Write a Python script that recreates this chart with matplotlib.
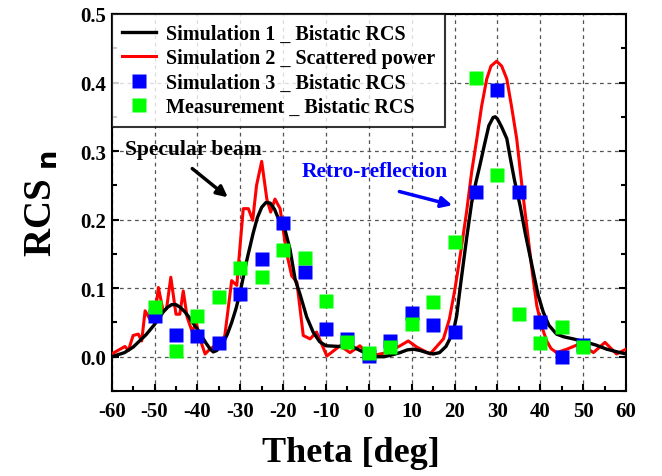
import matplotlib
matplotlib.use("Agg")
import matplotlib.pyplot as plt
from matplotlib.ticker import MultipleLocator

plt.rcParams['font.family'] = ['Liberation Serif', 'DejaVu Serif']
plt.rcParams['font.weight'] = 'bold'
plt.rcParams['axes.unicode_minus'] = False

# Simulation 1 - Bistatic RCS (black smooth curve)
sim1_theta = [-60, -57, -55, -52, -50, -49, -48, -47, -46, -45, -44, -43, -42, -41, -40, -39, -38, -37, -36.3,
              -35.5, -34, -33, -32, -31, -30, -28.5, -27, -26, -25, -24, -23, -22, -21, -19.6, -18.4, -17.2,
              -16, -14.5, -13, -11.5, -10, -7, -4, -2, 0, 2, 3.5, 5, 7.3, 9, 10.4, 12, 13.5, 15, 16.5, 18,
              19.7, 20.5, 21.5, 22.8, 24, 25, 25.9, 27, 28, 29, 29.5, 30, 31, 32.2, 33, 34, 35.3, 36.5, 38.4,
              39.5, 40.7, 42, 43.8, 45.5, 47.7, 50.8, 53, 55.5, 58, 60]
sim1_rcs = [0.0, 0.006, 0.014, 0.032, 0.047, 0.056, 0.065, 0.072, 0.076, 0.076, 0.072, 0.066, 0.058, 0.049,
            0.040, 0.030, 0.020, 0.011, 0.007, 0.009, 0.020, 0.033, 0.050, 0.070, 0.095, 0.140, 0.180, 0.203,
            0.218, 0.225, 0.224, 0.215, 0.200, 0.186, 0.157, 0.113, 0.090, 0.058, 0.036, 0.022, 0.016, 0.015,
            0.015, 0.009, 0.003, 0.000, 0.000, 0.002, 0.006, 0.010, 0.011, 0.009, 0.006, 0.004, 0.006, 0.015,
            0.036, 0.060, 0.110, 0.172, 0.225, 0.255, 0.279, 0.310, 0.337, 0.349, 0.350, 0.347, 0.335, 0.318,
            0.290, 0.257, 0.220, 0.180, 0.123, 0.090, 0.065, 0.046, 0.033, 0.029, 0.026, 0.021, 0.017, 0.011,
            0.007, 0.004]

# Simulation 2 - Scattered power (red curve)
sim2_theta = [-60, -56.9, -56.1, -55, -53.8, -53, -52.2, -51.1, -50.1, -49.1, -48, -47.2, -46.2, -45, -44.1,
              -43.3, -42.4, -41.3, -40.2, -39.4, -38.2, -37.1, -35.9, -34.7, -33.6, -32, -30.8, -30.3, -29.3,
              -28.1, -27.1, -26.2, -25, -23.8, -22.9, -21.9, -20.7, -19.2, -18, -16.8, -15.3, -13.7, -12.2,
              -9.8, -6.7, -4.4, -2.1, 0.3, 4.2, 7.3, 9.2, 11.2, 14.3, 17.4, 18.8, 20.1, 21.5, 22.8, 24, 25.2,
              26.3, 27.5, 28.5, 29.8, 31, 32.2, 33.3, 34.5, 35.8, 37.2, 38.2, 39.2, 40.3, 41.5, 42.5, 43.8,
              46.2, 49.3, 52.4, 55.1, 57.8, 60]
sim2_rcs = [0.004, 0.015, 0.009, 0.031, 0.033, 0.023, 0.067, 0.055, 0.050, 0.101, 0.067, 0.070, 0.116, 0.062,
            0.062, 0.096, 0.058, 0.038, 0.048, 0.026, 0.004, 0.011, 0.016, 0.016, 0.031, 0.111, 0.104, 0.143,
            0.216, 0.216, 0.199, 0.250, 0.285, 0.230, 0.211, 0.230, 0.216, 0.152, 0.118, 0.109, 0.031, 0.026,
            0.036, 0.001, 0.016, 0.006, 0.016, 0.001, 0.006, 0.016, 0.023, 0.014, 0.004, 0.026, 0.055, 0.099,
            0.155, 0.211, 0.270, 0.318, 0.365, 0.405, 0.424, 0.431, 0.424, 0.405, 0.365, 0.318, 0.245, 0.172,
            0.120, 0.074, 0.045, 0.023, 0.012, 0.006, 0.011, 0.019, 0.006, 0.021, 0.004, 0.011]

# Simulation 3 - Bistatic RCS (blue squares)
sim3_theta = [-50, -45, -40, -35, -30, -25, -20, -15, -10, -5, 0, 5, 10, 15, 20, 25, 30, 35, 40, 45, 50]
sim3_rcs = [0.059, 0.031, 0.030, 0.020, 0.092, 0.143, 0.195, 0.123, 0.041, 0.026, 0.001, 0.023, 0.064,
            0.047, 0.036, 0.241, 0.389, 0.241, 0.050, -0.001, 0.017]

# Measurement - Bistatic RCS (green squares)
meas_theta = [-50, -45, -40, -35, -30, -25, -20, -15, -10, -5, 0, 5, 10, 15, 20, 25, 30, 35, 40, 45, 50]
meas_rcs = [0.072, 0.009, 0.060, 0.087, 0.130, 0.116, 0.155, 0.144, 0.082, 0.022, 0.006, 0.014, 0.048,
            0.080, 0.168, 0.406, 0.265, 0.062, 0.020, 0.043, 0.014]

x_ticks = list(range(-60, 61, 10))
y_ticks = [0.0, 0.1, 0.2, 0.3, 0.4, 0.5]

fig = plt.figure(figsize=(6.62, 4.77), dpi=100)
ax = fig.add_axes([0.1687, 0.1782, 0.7769, 0.7904])

ax.plot(sim1_theta, sim1_rcs, color='black', lw=2.4, label='Simulation 1 _ Bistatic RCS', zorder=4)
ax.plot(sim2_theta, sim2_rcs, color='#ff0000', lw=2.2, label='Simulation 2 _ Scattered power', zorder=3)
ax.plot(sim3_theta, sim3_rcs, 's', color='#0000ff', ms=9.5, mec='none', label='Simulation 3 _ Bistatic RCS', zorder=5)
ax.plot(meas_theta, meas_rcs, 's', color='#00ff00', ms=9.5, mec='none', label='Measurement _ Bistatic RCS', zorder=6)

ax.set_xlim(-60, 60)
ax.set_ylim(-0.05, 0.5)
ax.set_xticks(x_ticks)
ax.set_xticklabels([str(v) for v in x_ticks])
ax.set_yticks(y_ticks)
ax.set_yticklabels([f"{v:.1f}" for v in y_ticks])
ax.xaxis.set_minor_locator(MultipleLocator(5))
ax.yaxis.set_minor_locator(MultipleLocator(0.05))
ax.grid(True, which='major', linestyle=(0, (3, 3)), color='#555555', lw=0.9)
ax.tick_params(axis='both', which='major', direction='out', length=5, width=1.5, labelsize=15)
ax.tick_params(axis='x', which='major', pad=7)
ax.tick_params(axis='y', which='major', pad=4)
ax.tick_params(axis='both', which='minor', direction='out', length=3.5, width=1.5)
ax.tick_params(right=True, which='both', direction='in')
for lbl in ax.get_xticklabels() + ax.get_yticklabels():
    lbl.set_fontweight('bold')
for s in ax.spines.values():
    s.set_linewidth(1.5)

ax.set_xlabel('Theta [deg]', fontsize=26, fontweight='bold')
ax.xaxis.set_label_coords(0.465, -0.12)
ax.set_ylabel(r'RCS$_{\mathbf{\ n}}$', fontsize=28, fontweight='bold', labelpad=14)

leg = ax.legend(loc='upper left', fontsize=14.5, frameon=True, fancybox=False, edgecolor='black',
                borderaxespad=0.0, handlelength=1.7, handletextpad=0.5, labelspacing=0.22,
                borderpad=0.5)
leg.get_frame().set_linewidth(1.5)
for t in leg.get_texts():
    t.set_fontweight('bold')

ax.annotate('', xy=(-32.4, 0.230), xytext=(-41.7, 0.277),
            arrowprops=dict(arrowstyle='-|>', color='black', lw=2.5, mutation_scale=16))
ax.text(-41.0, 0.303, 'Specular beam', fontsize=15.5, fontweight='bold', color='black',
        ha='center', va='center')
ax.annotate('', xy=(20.1, 0.220), xytext=(6.5, 0.242),
            arrowprops=dict(arrowstyle='-|>', color='#0000ff', lw=2.5, mutation_scale=16))
ax.text(1.4, 0.271, 'Retro-reflection', fontsize=15.5, fontweight='bold', color='#0000ff',
        ha='center', va='center')

fig.savefig('out.png', dpi=100)
